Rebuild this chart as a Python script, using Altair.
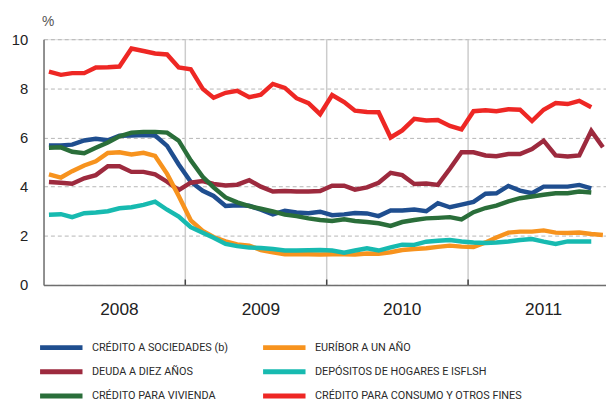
import altair as alt
import pandas as pd

# ---- data (monthly, Jan 2008 - Dec 2011) ----
# legend order (column-major: left column first, then right column)
series_names = [
    "CRÉDITO A SOCIEDADES (b)",
    "DEUDA A DIEZ AÑOS",
    "CRÉDITO PARA VIVIENDA",
    "EURÍBOR A UN AÑO",
    "DEPÓSITOS DE HOGARES E ISFLSH",
    "CRÉDITO PARA CONSUMO Y OTROS FINES",
]
series_colors = ["#1f4e8f", "#9d2a3e", "#2a6e3a", "#f7931e", "#17bab0", "#ee2724"]

sociedades = [5.68, 5.68, 5.71, 5.88, 5.95, 5.89, 6.07, 6.08, 6.10, 6.08, 5.66, 4.90,
              4.20, 3.83, 3.62, 3.21, 3.24, 3.22, 3.06, 2.87, 3.02, 2.95, 2.92, 2.98,
              2.84, 2.87, 2.93, 2.91, 2.80, 3.03, 3.03, 3.07, 3.00, 3.33, 3.16, 3.27,
              3.38, 3.71, 3.73, 4.03, 3.84, 3.73, 4.00, 4.00, 4.00, 4.07, 3.93]
deuda = [4.19, 4.16, 4.12, 4.34, 4.47, 4.83, 4.83, 4.60, 4.60, 4.50, 4.20, 3.86,
         4.16, 4.23, 4.11, 4.05, 4.08, 4.26, 4.00, 3.80, 3.82, 3.80, 3.80, 3.82,
         4.04, 4.04, 3.88, 3.97, 4.16, 4.56, 4.47, 4.11, 4.13, 4.07, 4.73, 5.40,
         5.40, 5.27, 5.24, 5.33, 5.33, 5.53, 5.87, 5.27, 5.23, 5.27, 6.27, 5.60]
vivienda = [5.58, 5.60, 5.42, 5.36, 5.58, 5.80, 6.05, 6.20, 6.23, 6.23, 6.20, 5.87,
            5.07, 4.40, 3.97, 3.56, 3.36, 3.21, 3.10, 2.99, 2.86, 2.80, 2.71, 2.64,
            2.60, 2.67, 2.60, 2.56, 2.51, 2.40, 2.56, 2.64, 2.71, 2.73, 2.76, 2.67,
            2.96, 3.13, 3.23, 3.40, 3.53, 3.60, 3.67, 3.73, 3.73, 3.80, 3.76]
euribor = [4.50, 4.37, 4.63, 4.86, 5.03, 5.37, 5.40, 5.31, 5.38, 5.25, 4.52, 3.62,
           2.63, 2.20, 1.95, 1.77, 1.65, 1.60, 1.42, 1.33, 1.25, 1.25, 1.25, 1.24,
           1.25, 1.25, 1.24, 1.28, 1.27, 1.33, 1.42, 1.46, 1.49, 1.55, 1.60, 1.56,
           1.54, 1.73, 1.93, 2.13, 2.17, 2.17, 2.22, 2.13, 2.11, 2.13, 2.07, 2.03]
depositos = [2.86, 2.88, 2.76, 2.92, 2.95, 3.00, 3.12, 3.16, 3.26, 3.39, 3.06, 2.78,
             2.35, 2.12, 1.92, 1.67, 1.58, 1.52, 1.50, 1.46, 1.40, 1.40, 1.41, 1.42,
             1.40, 1.31, 1.40, 1.49, 1.40, 1.53, 1.64, 1.63, 1.76, 1.80, 1.83, 1.77,
             1.73, 1.71, 1.73, 1.77, 1.83, 1.87, 1.76, 1.67, 1.77, 1.77, 1.77]
consumo = [8.68, 8.55, 8.62, 8.62, 8.85, 8.86, 8.89, 9.62, 9.52, 9.42, 9.38, 8.85,
           8.78, 7.98, 7.62, 7.82, 7.90, 7.64, 7.74, 8.18, 8.02, 7.60, 7.40, 6.95,
           7.73, 7.44, 7.09, 7.04, 7.03, 6.00, 6.29, 6.76, 6.69, 6.71, 6.47, 6.33,
           7.07, 7.11, 7.07, 7.15, 7.13, 6.67, 7.13, 7.40, 7.36, 7.49, 7.23]

year_starts = ["2009-01-01", "2010-01-01", "2011-01-01"]
year_label_dates = ["2008-07-01", "2009-07-01", "2010-07-01", "2011-07-01"]
y_ticks = [0, 2, 4, 6, 8, 10]

# ---- build long table ----
months = pd.date_range("2008-01-01", periods=48, freq="MS") + pd.Timedelta(days=14)
all_series = [sociedades, deuda, vivienda, euribor, depositos, consumo]
rows = []
for name, vals in zip(series_names, all_series):
    for d, v in zip(months, vals):
        rows.append({"fecha": d.strftime("%Y-%m-%d"), "serie": name, "valor": v})
df = pd.DataFrame(rows)
bounds = pd.DataFrame({"fecha": year_starts})

x_scale = alt.Scale(domain=["2008-01-01", "2011-12-23"])
y_scale = alt.Scale(domain=[0, 10])

x_axis = alt.Axis(
    values=year_label_dates, format="%Y", title=None, grid=False, ticks=False,
    labelFontSize=17.5, labelColor="#222222", labelPadding=16, labelOffset=5,
    domainColor="#6f6f6f", domainWidth=1.5, labelFont="Liberation Sans",
)
y_axis = alt.Axis(
    values=y_ticks, title="%", titleAngle=0, titleAlign="left", titleBaseline="alphabetic",
    titleX=-2, titleY=-14, titleFontSize=14, titleFontWeight="normal", titleColor="#555555",
    titleFont="Liberation Sans",
    grid=True, gridDash=[4, 3], gridColor="#b5b5b5", gridWidth=1,
    ticks=False, labelPadding=16, labelFontSize=15, labelColor="#222222",
    labelFont="Liberation Sans", domainColor="#6f6f6f", domainWidth=1.5,
)

vgrid = alt.Chart(bounds).mark_rule(color="#cccccc", strokeWidth=1.5).encode(
    x=alt.X("fecha:T", scale=x_scale, axis=x_axis),
    y=alt.datum(0, scale=y_scale, axis=y_axis),
    y2=alt.datum(10),
)
vticks = alt.Chart(bounds).mark_rule(color="#444444", strokeWidth=1.5).encode(
    x=alt.X("fecha:T"),
    y=alt.datum(0),
    y2=alt.datum(0.22),
)

lines = alt.Chart(df).mark_line(strokeWidth=4.5, strokeJoin="miter").encode(
    x=alt.X("fecha:T"),
    y=alt.Y("valor:Q"),
    color=alt.Color(
        "serie:N",
        scale=alt.Scale(domain=series_names, range=series_colors),
        sort=series_names,
        legend=alt.Legend(
            title=None, orient="none", legendX=-6, legendY=306.5, columns=2,
            symbolType="stroke", symbolSize=1849, symbolStrokeWidth=5,
            clipHeight=12, labelOffset=7, labelFontSize=11,
            labelFont="Roboto", labelColor="#2a2a2a",
            columnPadding=32, rowPadding=12.5, padding=0, labelLimit=400,
        ),
    ),
    detail="serie:N",
)

chart = (
    alt.layer(vgrid, vticks, lines)
    .properties(
        width=570, height=249,
        autosize=alt.AutoSizeParams(type="none"),
        padding={"left": 36, "top": 29, "right": 0, "bottom": 116},
    )
    .configure_view(stroke=None)
    .configure(background="white")
)

chart.save("out.html", embed_options={"renderer": "svg", "actions": False})
